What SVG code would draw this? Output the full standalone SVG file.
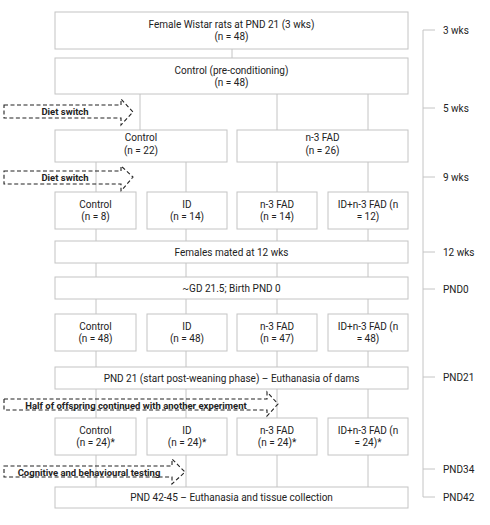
<svg xmlns="http://www.w3.org/2000/svg" width="490" height="525" viewBox="0 0 490 525">
<style>
.box{fill:#fff;stroke:#c4c4c4;stroke-width:1}
.ln{stroke:#c4c4c4;stroke-width:1;fill:none}
.t{font-family:Roboto,"Liberation Sans",sans-serif;font-size:10px;fill:#222;text-anchor:middle}
.tl{font-family:Roboto,"Liberation Sans",sans-serif;font-size:10px;fill:#222}
.arr{fill:none;stroke:#222;stroke-width:1.1;stroke-dasharray:4 2.5}
.at{font-family:Roboto,"Liberation Sans",sans-serif;font-size:9.5px;font-weight:bold;fill:#222}
</style>
<rect width="490" height="525" fill="#fff"/>
<g id="connectors">
<path class="ln" d="M232 49V58 M140 94V130 M277 94V130 M368 94V130 M96 162V192 M186 162V192 M277 162V192 M368 162V192 M96 229V241 M186 229V241 M277 229V241 M368 229V241 M96 263V277 M186 263V277 M277 263V277 M368 263V277 M96 299V314 M186 299V314 M277 299V314 M368 299V314 M96 351V367 M186 351V367 M277 351V367 M368 351V367 M96 389V418 M186 389V418 M277 389V418 M368 389V418 M96 455V487 M186 455V487 M277 455V487 M368 455V487"/>
</g>
<g id="timeline">
<path class="ln" d="M423 30V497 M423 30H435 M423 108H435 M423 177H435 M423 252H435 M423 289H435 M423 377H435 M423 469H435 M423 497H435"/>
<text class="tl" x="443" y="34">3 wks</text>
<text class="tl" x="443" y="112">5 wks</text>
<text class="tl" x="443" y="181">9 wks</text>
<text class="tl" x="443" y="256">12 wks</text>
<text class="tl" x="443" y="293">PND0</text>
<text class="tl" x="443" y="381">PND21</text>
<text class="tl" x="443" y="473">PND34</text>
<text class="tl" x="443" y="501">PND42</text>
</g>
<g id="n1"><rect class="box" x="55" y="12" width="353" height="37"/><text class="t" x="231.5" y="28">Female Wistar rats at PND 21 (3 wks)</text><text class="t" x="231.5" y="40">(n = 48)</text></g>
<g id="n2"><rect class="box" x="55" y="58" width="353" height="36"/><text class="t" x="231.5" y="74">Control (pre-conditioning)</text><text class="t" x="231.5" y="86">(n = 48)</text></g>
<g id="a1"><path class="arr" d="M4 105H121V99L133 112L121 125V118H4Z"/><text class="at" x="65" y="115" text-anchor="middle">Diet switch</text></g>
<g id="n3"><rect class="box" x="55" y="130" width="172" height="32"/><text class="t" x="141" y="141">Control</text><text class="t" x="141" y="154">(n = 22)</text></g>
<g id="n4"><rect class="box" x="237" y="130" width="171" height="32"/><text class="t" x="322.5" y="141">n-3 FAD</text><text class="t" x="322.5" y="154">(n = 26)</text></g>
<g id="a2"><path class="arr" d="M4 171H121V166L133 177L121 191V184H4Z"/><text class="at" x="65" y="181" text-anchor="middle">Diet switch</text></g>
<g id="n5"><rect class="box" x="55" y="192" width="81" height="37"/><text class="t" x="95.5" y="208">Control</text><text class="t" x="95.5" y="220">(n = 8)</text></g>
<g id="n6"><rect class="box" x="147" y="192" width="80" height="37"/><text class="t" x="187" y="208">ID</text><text class="t" x="187" y="220">(n = 14)</text></g>
<g id="n7"><rect class="box" x="237" y="192" width="80" height="37"/><text class="t" x="277" y="208">n-3 FAD</text><text class="t" x="277" y="220">(n = 14)</text></g>
<g id="n8"><rect class="box" x="328" y="192" width="80" height="37"/><text class="t" x="368" y="208">ID+n-3 FAD (n</text><text class="t" x="368" y="220">= 12)</text></g>
<g id="n9"><rect class="box" x="55" y="241" width="353" height="22"/><text class="t" x="231.5" y="255.5">Females mated at 12 wks</text></g>
<g id="n10"><rect class="box" x="55" y="277" width="353" height="22"/><text class="t" x="231.5" y="291.5">~GD 21.5; Birth PND 0</text></g>
<g id="n11"><rect class="box" x="55" y="314" width="81" height="37"/><text class="t" x="95.5" y="330">Control</text><text class="t" x="95.5" y="342">(n = 48)</text></g>
<g id="n12"><rect class="box" x="147" y="314" width="80" height="37"/><text class="t" x="187" y="330">ID</text><text class="t" x="187" y="342">(n = 48)</text></g>
<g id="n13"><rect class="box" x="237" y="314" width="80" height="37"/><text class="t" x="277" y="330">n-3 FAD</text><text class="t" x="277" y="342">(n = 47)</text></g>
<g id="n14"><rect class="box" x="328" y="314" width="80" height="37"/><text class="t" x="368" y="330">ID+n-3 FAD (n</text><text class="t" x="368" y="342">= 48)</text></g>
<g id="n15"><rect class="box" x="55" y="367" width="353" height="22"/><text class="t" x="231.5" y="381.5">PND 21 (start post-weaning phase) – Euthanasia of dams</text></g>
<g id="a3"><path class="arr" d="M4 399H267V392L278 404L267 416V410H4Z"/><text class="at" x="136" y="408.5" text-anchor="middle">Half of offspring continued with another experiment</text></g>
<g id="n16"><rect class="box" x="55" y="418" width="81" height="37"/><text class="t" x="95.5" y="434">Control</text><text class="t" x="95.5" y="446">(n = 24)*</text></g>
<g id="n17"><rect class="box" x="147" y="418" width="80" height="37"/><text class="t" x="187" y="434">ID</text><text class="t" x="187" y="446">(n = 24)*</text></g>
<g id="n18"><rect class="box" x="237" y="418" width="80" height="37"/><text class="t" x="277" y="434">n-3 FAD</text><text class="t" x="277" y="446">(n = 24)*</text></g>
<g id="n19"><rect class="box" x="328" y="418" width="80" height="37"/><text class="t" x="368" y="434">ID+n-3 FAD (n</text><text class="t" x="368" y="446">= 24)*</text></g>
<g id="a4"><path class="arr" d="M4 466H172V459L185 472L172 484V477H4Z"/><text class="at" x="89" y="475.5" text-anchor="middle">Cognitive and behavioural testing</text></g>
<g id="n20"><rect class="box" x="55" y="487" width="353" height="21"/><text class="t" x="231.5" y="501">PND 42-45  – Euthanasia and tissue collection</text></g>
</svg>
